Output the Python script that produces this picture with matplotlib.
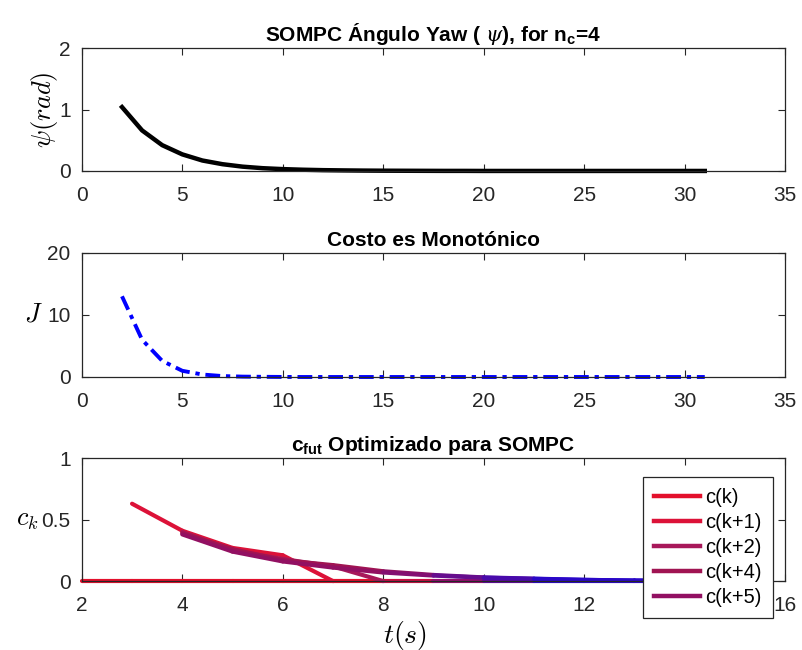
import numpy as np
import matplotlib

matplotlib.use("Agg")
import matplotlib.pyplot as plt
from matplotlib.collections import LineCollection
from matplotlib.colors import to_rgb
from matplotlib.lines import Line2D

plt.rcParams["font.family"] = ["Liberation Sans", "DejaVu Sans"]
plt.rcParams["mathtext.fontset"] = "cm"
plt.rcParams["mathtext.rm"] = "Liberation Sans"
plt.rcParams["mathtext.bf"] = "Liberation Sans:bold"
plt.rcParams["mathtext.it"] = "DejaVu Serif:italic"

# yaw angle psi (rad)
t_psi = list(range(2, 32))
psi = [1.04, 0.66, 0.42, 0.27, 0.17, 0.11, 0.07, 0.045, 0.03, 0.02,
       0.013, 0.009, 0.006, 0.004, 0.003, 0.002, 0.001, 0.001, 0.0, 0.0,
       0.0, 0.0, 0.0, 0.0, 0.0, 0.0, 0.0, 0.0, 0.0, 0.0]

# cost J
t_J = list(range(2, 32))
J = [13.0, 6.0, 2.6, 1.0, 0.4, 0.15, 0.06, 0.03, 0.01, 0.0,
     0.0, 0.0, 0.0, 0.0, 0.0, 0.0, 0.0, 0.0, 0.0, 0.0,
     0.0, 0.0, 0.0, 0.0, 0.0, 0.0, 0.0, 0.0, 0.0, 0.0]

# optimized future c
t_c0 = list(range(2, 15))
c0 = [0.0] * 13
t_c1 = [3, 4, 5, 6, 7]
c1 = [0.63, 0.41, 0.27, 0.21, 0.0]
t_c2 = [4, 5, 6, 7, 8]
c2 = [0.40, 0.25, 0.18, 0.12, 0.0]
t_c4 = list(range(4, 15))
c4 = [0.39, 0.26, 0.17, 0.13, 0.08, 0.05, 0.03, 0.02, 0.01, 0.005, 0.002]
t_c5 = list(range(4, 15))
c5 = [0.38, 0.24, 0.16, 0.11, 0.07, 0.045, 0.028, 0.018, 0.01, 0.004, 0.001]

labels = ["c(k)", "c(k+1)", "c(k+2)", "c(k+4)", "c(k+5)"]
colors = ["#e3102c", "#dc1238", "#a8185a", "#a01452", "#921062"]
tail_blue = "#2a08c8"

axcol = "#262626"
fs = 15
lab_fs = 19

fig = plt.figure(figsize=(8.02, 6.5), dpi=100)
ax1 = fig.add_axes([0.102, 0.737, 0.877, 0.189])
ax2 = fig.add_axes([0.102, 0.420, 0.877, 0.191])
ax3 = fig.add_axes([0.102, 0.106, 0.877, 0.189])


def style(ax):
    ax.tick_params(direction="in", top=True, right=True, labelsize=fs,
                   colors=axcol, length=5)
    ax.tick_params(axis="x", pad=11)
    ax.tick_params(axis="y", pad=8)
    for s in ax.spines.values():
        s.set_color(axcol)
        s.set_linewidth(0.9)


def title(ax, txt):
    ax.set_title(txt, fontsize=fs, fontweight="bold", pad=5,
                 math_fontfamily="custom")


ax1.plot(t_psi, psi, color="black", lw=3.2, clip_on=False)
ax1.set_xlim(0, 35)
ax1.set_ylim(0, 2)
ax1.set_yticks([0, 1, 2])
ax1.set_ylabel(r"$\psi(rad)$", fontsize=lab_fs)
ax1.yaxis.set_label_coords(-0.031, 0.5)
title(ax1, r"SOMPC Ángulo Yaw ( $\psi$), for n$_\mathbf{c}$=4")
style(ax1)

ax2.plot(t_J, J, color="blue", lw=2.8, ls="-.", dashes=(3.8, 1.5, 1.1, 1.5),
         clip_on=False)
ax2.set_xlim(0, 35)
ax2.set_ylim(0, 20)
ax2.set_yticks([0, 10, 20])
ax2.set_ylabel(r"$J$", fontsize=lab_fs, rotation=0, va="center", ha="center")
ax2.yaxis.set_label_coords(-0.069, 0.5)
title(ax2, "Costo es Monotónico")
style(ax2)


def gradient_line(ax, t, c, base):
    t = np.asarray(t, float)
    c = np.asarray(c, float)
    pts = np.column_stack([t, c]).reshape(-1, 1, 2)
    segs = np.concatenate([pts[:-1], pts[1:]], axis=1)
    mid = (t[:-1] + t[1:]) / 2
    w = np.clip((mid - 8.0) / 3.5, 0, 1)[:, None]
    cols = (1 - w) * np.array(to_rgb(base)) + w * np.array(to_rgb(tail_blue))
    lc = LineCollection(segs, colors=cols, linewidths=3, capstyle="round")
    lc.set_clip_on(False)
    ax.add_collection(lc)


series = [(t_c0, c0), (t_c1, c1), (t_c2, c2), (t_c4, c4), (t_c5, c5)]
for (t, c), col in zip(series, colors):
    gradient_line(ax3, t, c, col)

ax3.set_xlim(2, 16)
ax3.set_ylim(0, 1)
ax3.set_xticks(range(2, 17, 2))
ax3.set_yticks([0, 0.5, 1])
ax3.set_yticklabels(["0", "0.5", "1"])
ax3.set_ylabel(r"$c_k$", fontsize=lab_fs, rotation=0, va="center", ha="center")
ax3.yaxis.set_label_coords(-0.078, 0.5)
ax3.set_xlabel(r"$t(s)$", fontsize=lab_fs + 1)
ax3.xaxis.set_label_coords(0.46, -0.305)
title(ax3, r"c$_\mathbf{fut}$ Optimizado para SOMPC")
style(ax3)

handles = [Line2D([], [], color=c, lw=3.2) for c in colors]
leg = ax3.legend(handles, labels, loc="upper left",
                 bbox_to_anchor=(0.798, 0.846), fontsize=14.5,
                 handlelength=2.3, handletextpad=0.25, labelspacing=0.3,
                 borderaxespad=0, fancybox=False, framealpha=1,
                 edgecolor=axcol, borderpad=0.55)
leg.get_frame().set_linewidth(0.9)
leg.set_zorder(5)

fig.savefig("out.png", dpi=100)
